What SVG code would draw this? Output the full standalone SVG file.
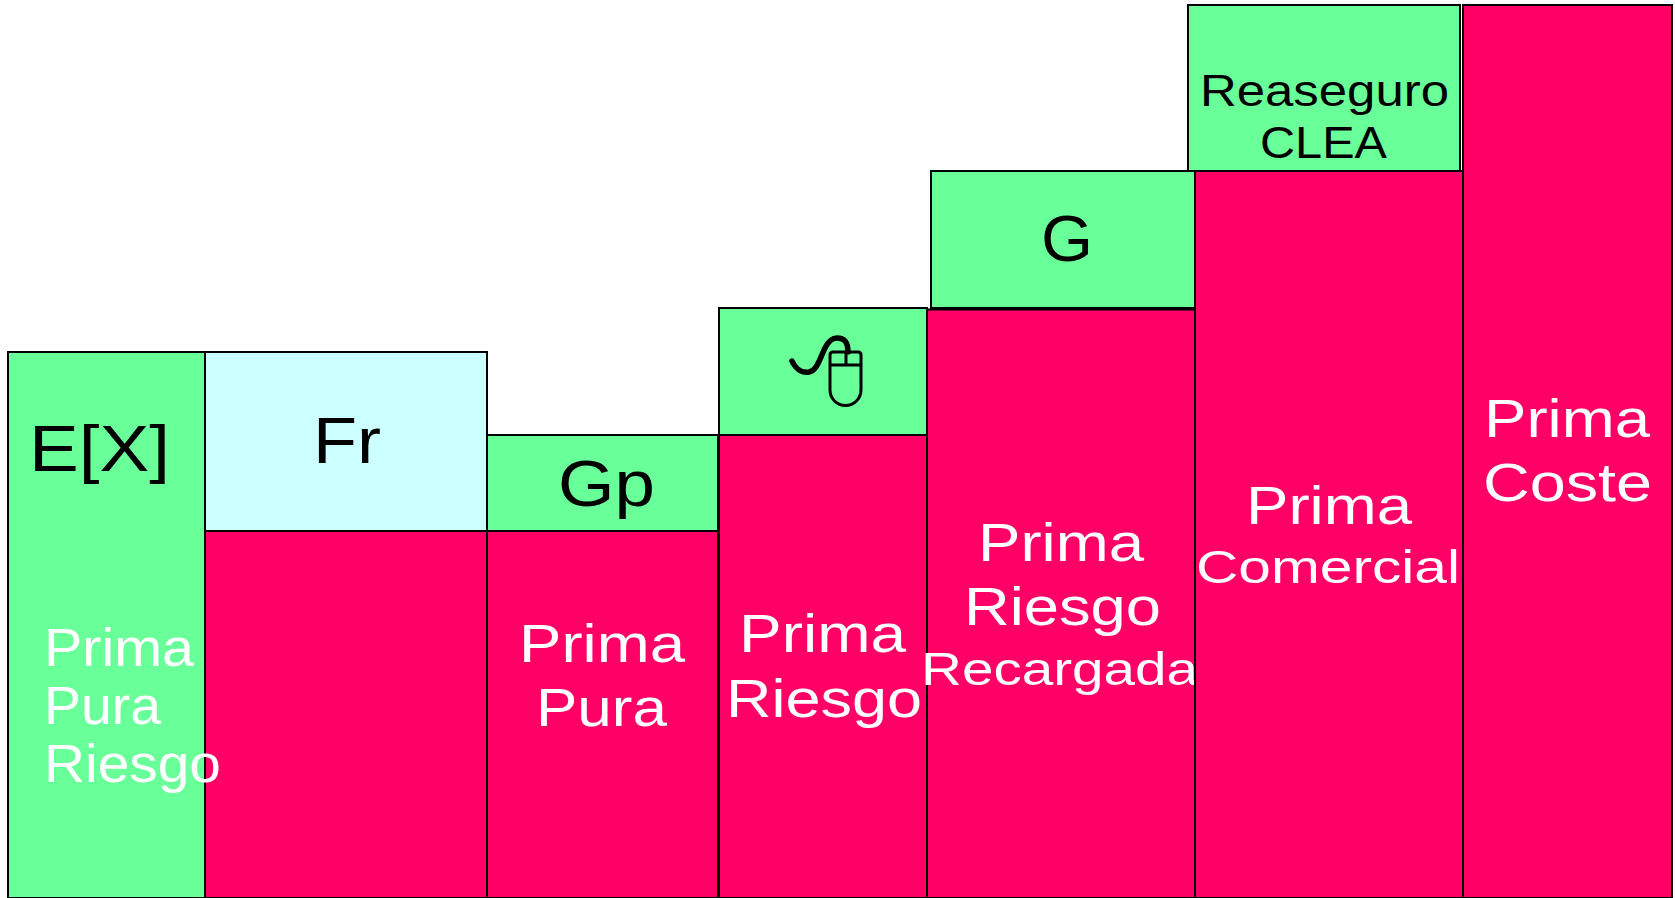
<svg xmlns="http://www.w3.org/2000/svg" width="1675" height="898" viewBox="0 0 1675 898">
<style>
rect{stroke:#000;stroke-width:2}
.g{fill:#69ff99}.r{fill:#ff0066}.c{fill:#ccffff}
text{font-family:"Liberation Sans",Arial,sans-serif}
.k{fill:#000}.w{fill:#fff}
.lg{font-size:64px}.md{font-size:54px}.sm{font-size:47px}.re{font-size:44px}
.ic{fill:none;stroke:#000;stroke-linecap:round;stroke-linejoin:round}
</style>
<rect width="1675" height="898" style="fill:#fff;stroke:none"/>
<g id="ex"><rect class="g" x="8" y="352" width="197" height="546"/>
<text class="k lg" x="29" y="471" textLength="141" lengthAdjust="spacingAndGlyphs">E[X]</text></g>
<g id="fr"><rect class="c" x="205" y="352" width="282" height="179"/>
<text class="k lg" x="313" y="463" textLength="68" lengthAdjust="spacingAndGlyphs">Fr</text></g>
<g id="fr-base"><rect class="r" x="205" y="531" width="282" height="367"/></g>
<text class="w md" x="44" y="666" textLength="150" lengthAdjust="spacingAndGlyphs">Prima</text>
<text class="w md" x="44" y="724" textLength="117" lengthAdjust="spacingAndGlyphs">Pura</text>
<text class="w md" x="44" y="782" textLength="177" lengthAdjust="spacingAndGlyphs">Riesgo</text>
<g id="gp"><rect class="g" x="487" y="435" width="231" height="96"/>
<text class="k lg" x="558" y="506" textLength="97" lengthAdjust="spacingAndGlyphs">Gp</text></g>
<g id="prima-pura"><rect class="r" x="487" y="531" width="231" height="367"/>
<text class="w md" x="519" y="662" textLength="166" lengthAdjust="spacingAndGlyphs">Prima</text>
<text class="w md" x="536" y="726" textLength="131" lengthAdjust="spacingAndGlyphs">Pura</text></g>
<g id="mouse"><rect class="g" x="719" y="308" width="208" height="127"/>
<path class="ic" stroke-width="5.500" d="M792 361C796 370 803 373 809 372C817 371 820 358 825 348C829 340 833 338 837 338C845 338 848 343 848 352"/>
<path class="ic" stroke-width="3" d="M830 355Q830 352 833 352H858Q861 352 861 355V390A15.500 15.500 0 0 1 830 390ZM830 365H861M846 352V365"/></g>
<g id="prima-riesgo"><rect class="r" x="719" y="435" width="208" height="463"/>
<text class="w md" x="739" y="652" textLength="167" lengthAdjust="spacingAndGlyphs">Prima</text>
<text class="w md" x="726" y="717" textLength="196" lengthAdjust="spacingAndGlyphs">Riesgo</text></g>
<g id="g"><rect class="g" x="931" y="171" width="264" height="137"/>
<text class="k lg" x="1041" y="261" textLength="52" lengthAdjust="spacingAndGlyphs">G</text></g>
<g id="prima-recargada"><rect class="r" x="927" y="309.500" width="268" height="588.500"/>
<text class="w md" x="978" y="561" textLength="166" lengthAdjust="spacingAndGlyphs">Prima</text>
<text class="w md" x="964" y="625" textLength="197" lengthAdjust="spacingAndGlyphs">Riesgo</text>
<text class="w sm" x="921" y="685" textLength="277" lengthAdjust="spacingAndGlyphs">Recargada</text></g>
<g id="reaseguro"><rect class="g" x="1188" y="5" width="272" height="166"/>
<text class="k re" x="1200" y="106" textLength="249" lengthAdjust="spacingAndGlyphs">Reaseguro</text>
<text class="k re" x="1260" y="158" textLength="127" lengthAdjust="spacingAndGlyphs">CLEA</text></g>
<g id="prima-comercial"><rect class="r" x="1195" y="171" width="268" height="727"/>
<text class="w md" x="1246" y="524" textLength="166" lengthAdjust="spacingAndGlyphs">Prima</text>
<text class="w sm" x="1196" y="583" textLength="264" lengthAdjust="spacingAndGlyphs">Comercial</text></g>
<g id="prima-coste"><rect class="r" x="1463" y="5" width="209" height="893"/>
<text class="w md" x="1484" y="437" textLength="166" lengthAdjust="spacingAndGlyphs">Prima</text>
<text class="w md" x="1483" y="501" textLength="169" lengthAdjust="spacingAndGlyphs">Coste</text></g>
</svg>
